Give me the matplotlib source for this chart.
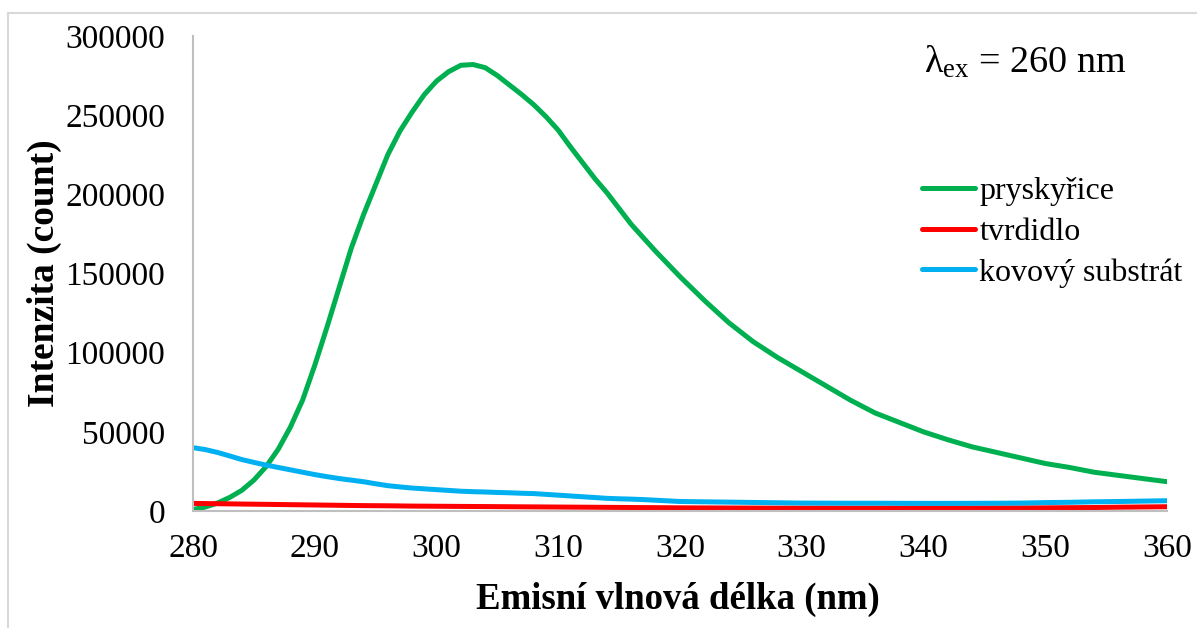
import matplotlib
matplotlib.use("Agg")
import matplotlib.pyplot as plt
from matplotlib.lines import Line2D

plt.rcParams["font.family"] = ["Liberation Serif", "DejaVu Serif"]
plt.rcParams["mathtext.fontset"] = "custom"
plt.rcParams["mathtext.rm"] = "Liberation Serif"
plt.rcParams["mathtext.it"] = "Liberation Serif:italic"

#emission spectra (1 nm steps up to 320, then 2 nm)
wavelength = list(range(280, 320)) + list(range(320, 361, 2))
pryskyrice = [1000, 2500, 5000, 8500, 13000, 19500, 28000, 39000, 53000, 70000,
              92000, 116000, 141000, 166000, 187000, 206000, 225000, 240000, 252000, 263000,
              271500, 277500, 281500, 282000, 280000, 275000, 269000, 263000, 256500, 249000,
              240500, 230000, 220000, 210000, 201000, 191000, 181000, 172500, 164000, 156000,
              148000, 133000, 119000, 107000, 97000, 88000, 79000, 70000, 62000, 56000,
              50000, 45000, 40500, 37000, 33500, 30000, 27500, 24500, 22500, 20500, 18500]
tvrdidlo = [4800, 4700, 4600, 4500, 4400, 4300, 4200, 4100, 4000, 3900,
            3800, 3700, 3600, 3500, 3400, 3350, 3300, 3200, 3100, 3050,
            3000, 2950, 2900, 2850, 2800, 2750, 2700, 2650, 2600, 2550,
            2500, 2450, 2400, 2350, 2300, 2250, 2200, 2150, 2100, 2050,
            2000, 1950, 1900, 1850, 1800, 1800, 1800, 1800, 1800, 1800,
            1800, 1800, 1850, 1900, 1950, 2000, 2100, 2200, 2400, 2550, 2700]
substrat = [40000, 38800, 37000, 34800, 32500, 30700, 29000, 27500, 26000, 24500,
            23000, 21700, 20500, 19500, 18500, 17200, 16000, 15200, 14500, 14000,
            13500, 13000, 12500, 12200, 12000, 11700, 11500, 11200, 11000, 10500,
            10000, 9500, 9000, 8500, 8000, 7700, 7500, 7200, 6800, 6400,
            6000, 5800, 5600, 5400, 5200, 5000, 4950, 4900, 4900, 4850,
            4800, 4800, 4850, 4900, 5000, 5300, 5500, 5800, 6000, 6250, 6500]

series = [("pryskyřice", pryskyrice, "#00B050"),
          ("tvrdidlo", tvrdidlo, "#FF0000"),
          ("kovový substrát", substrat, "#00B0F0")]

fig = plt.figure(figsize=(11.97, 6.28), dpi=100)
ax = fig.add_axes([193 / 1197, 1 - 511 / 628, (1167 - 193) / 1197, (511 - 36) / 628])

for name, vals, col in series:
    ax.plot(wavelength, vals, color=col, lw=3.6, label=name, solid_capstyle="round")

ax.set_xlim(280, 360)
ax.set_ylim(0, 300000)
ax.set_xticks(range(280, 361, 10))
ax.set_yticks(range(0, 300001, 50000))
ax.tick_params(length=0, labelsize=24, pad=20)
ax.tick_params(axis="x", pad=16)
for s in ["top", "right"]:
    ax.spines[s].set_visible(False)
for s in ["left", "bottom"]:
    ax.spines[s].set_color("#BFBFBF")
    ax.spines[s].set_linewidth(1.5)

ax.set_xlabel("Emisní vlnová délka (nm)", fontsize=26.5, fontweight="bold")
ax.xaxis.set_label_coords(0.498, -0.15)
ax.set_ylabel("Intenzita (count)", fontsize=27, fontweight="bold")
ax.yaxis.set_label_coords(-0.134, 0.5)

leg = ax.legend(loc="upper left", bbox_to_anchor=(0.735, 0.73), frameon=False, fontsize=23,
                handlelength=1.66, handletextpad=0.15, labelspacing=0.35, borderaxespad=0)

fig.text(924 / 1197, 1 - 62 / 628, "λ$_{\\mathrm{ex}}$ = 260 nm", fontsize=27.5, va="center")

#light frame at top and left as in the source image
fig.add_artist(Line2D([8 / 1197, 1], [1 - 13 / 628, 1 - 13 / 628], color="#D9D9D9", lw=1.5))
fig.add_artist(Line2D([8 / 1197, 8 / 1197], [0, 1 - 13 / 628], color="#D9D9D9", lw=1.5))

fig.savefig("out.png", dpi=100)
